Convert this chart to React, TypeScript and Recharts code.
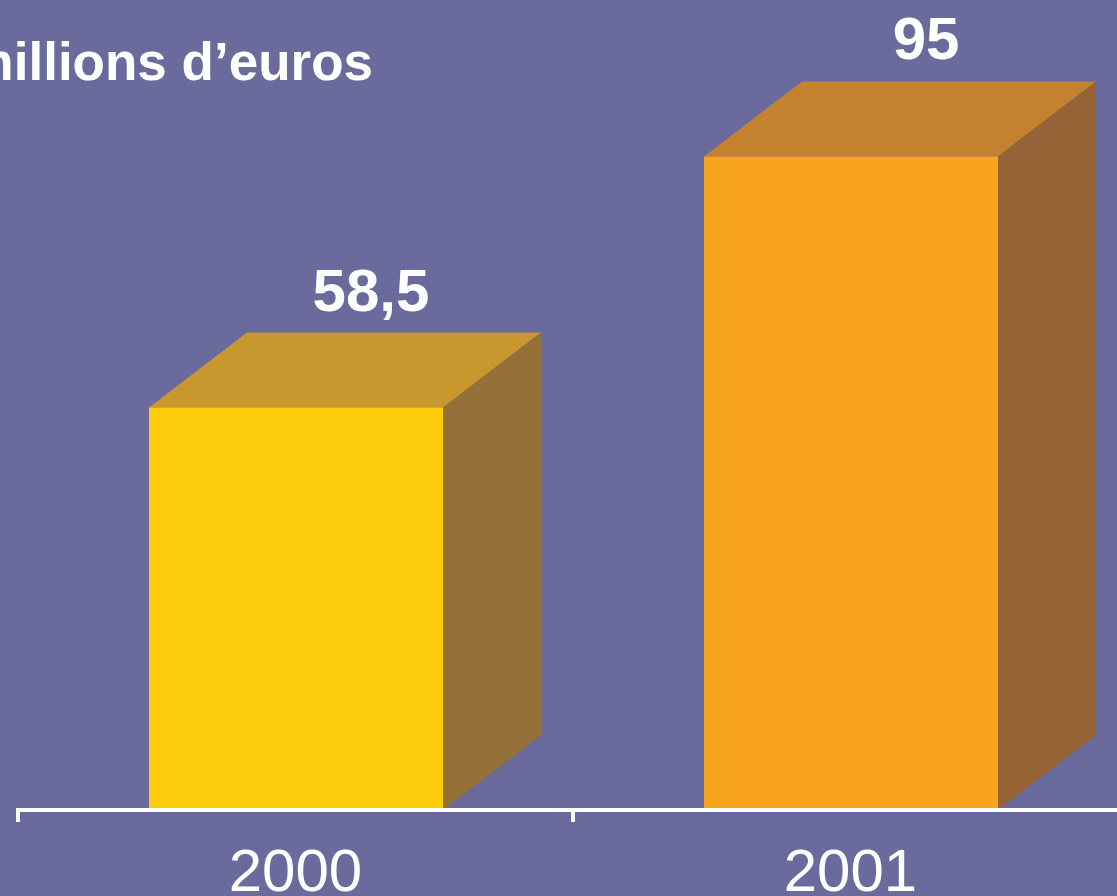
import React from 'react';
import { BarChart, Bar, XAxis, YAxis, LabelList } from 'recharts';

const CATEGORIES = ['2000', '2001'];
const VALUES = [58.5, 95];
const TITLE = 'millions d\u2019euros';

const FRONT = ['#FDCC0A', '#F7A51D'];
const TOP = ['#C6982E', '#C4812E'];
const SIDE = ['#957039', '#966337'];
const BG = '#6A6A9C';

const CHART_W = 1140;
const CHART_H = 896;
const MARGIN = { top: 122, right: 12, left: 18, bottom: 0 };
const BAND = (CHART_W - MARGIN.left - MARGIN.right) / CATEGORIES.length;
const DX = 98;
const DY = 75;
const FONT = '"Liberation Sans", Arial, Helvetica, sans-serif';

const data = CATEGORIES.map((c, i) => ({ year: c, value: VALUES[i] }));

const Box3D = (props: any) => {
  const { x, y, width, height, index } = props;
  const i = index ?? 0;
  const front = `M${x},${y}h${width}v${height}h${-width}Z`;
  const top = `M${x},${y}L${x + DX},${y - DY}L${x + width + DX},${y - DY}L${x + width},${y}Z`;
  const side = `M${x + width},${y}L${x + width + DX},${y - DY}L${x + width + DX},${y + height - DY}L${x + width},${y + height}Z`;
  return (
    <g>
      <path d={top} fill={TOP[i]} />
      <path d={side} fill={SIDE[i]} />
      <path d={front} fill={FRONT[i]} />
    </g>
  );
};

const ValueLabel = (props: any) => {
  const { x, y, width, value } = props;
  return (
    <text
      x={x + width / 2 + 75}
      y={y - DY - 22}
      textAnchor="middle"
      fill="#fff"
      fontFamily={FONT}
      fontWeight="bold"
      fontSize={60}
    >
      {String(value).replace('.', ',')}
    </text>
  );
};

const Tick = (props: any) => {
  const { x, y, payload, index } = props;
  const left = x - BAND / 2;
  const right = x + BAND / 2;
  return (
    <g>
      <line x1={left} y1={y - 2} x2={left} y2={y + 12} stroke="#fff" strokeWidth={4} />
      {index === CATEGORIES.length - 1 && (
        <line x1={right} y1={y - 2} x2={right} y2={y + 12} stroke="#fff" strokeWidth={4} />
      )}
      <text x={x} y={y + 81} textAnchor="middle" fill="#fff" fontFamily={FONT} fontSize={60}>
        {payload.value}
      </text>
    </g>
  );
};

export default function App() {
  return (
    <div
      style={{
        position: 'fixed',
        left: 0,
        top: 0,
        width: 1117,
        height: 896,
        overflow: 'hidden',
        background: BG,
      }}
    >
      <BarChart width={CHART_W} height={CHART_H} data={data} margin={MARGIN}>
        <XAxis
          dataKey="year"
          height={86}
          axisLine={{ stroke: '#fff', strokeWidth: 4 }}
          tickLine={false}
          tickSize={0}
          tickMargin={0}
          tick={<Tick />}
          interval={0}
        />
        <YAxis hide domain={[0, 100]} />
        <Bar dataKey="value" barSize={294} shape={<Box3D />} isAnimationActive={false}>
          <LabelList dataKey="value" content={<ValueLabel />} />
        </Bar>
        <text x={373} y={80} textAnchor="end" fill="#fff" fontFamily={FONT} fontWeight="bold" fontSize={53}>
          {TITLE}
        </text>
      </BarChart>
    </div>
  );
}
